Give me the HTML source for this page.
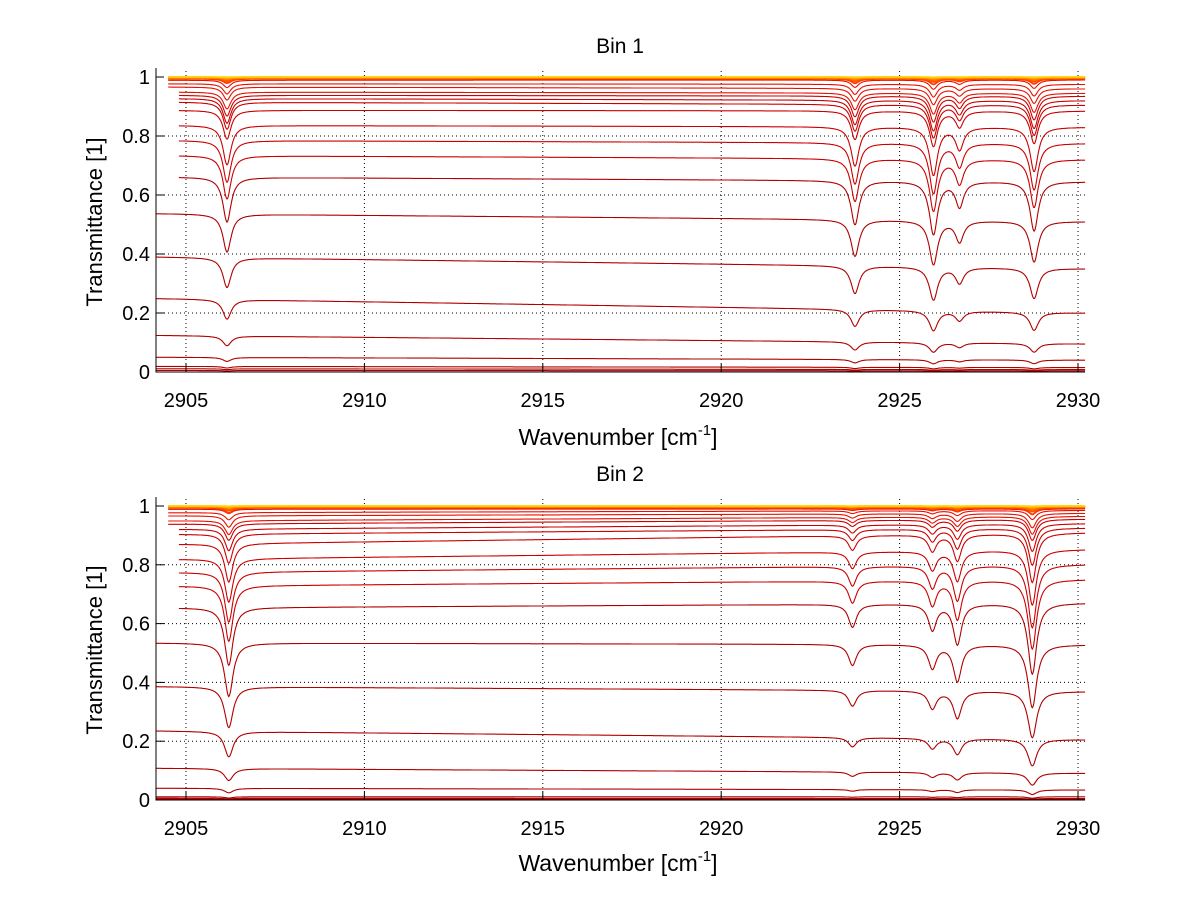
<!DOCTYPE html>
<html><head><meta charset="utf-8"><style>
html,body{margin:0;padding:0;background:#fff;}
svg{display:block;font-family:"Liberation Sans",sans-serif;}
</style></head><body>
<svg id="fig" width="1200" height="901" viewBox="0 0 1200 901"></svg>
<script>
// ---- data ----
const xTicks = [2905, 2910, 2915, 2920, 2925, 2930];
const yTicks = [0, 0.2, 0.4, 0.6, 0.8, 1];
const yTickLabels = ["0", "0.2", "0.4", "0.6", "0.8", "1"];
const lineCenters1 = [2906.15, 2923.75, 2925.95, 2926.68, 2928.77];
const lineRel1 = [1, 1.0, 1.25, 0.55, 1.15];
const baseLeft1 = [1.0,0.999,0.998,0.997,0.996,0.994,0.989,0.977,0.966,0.949,0.938,0.927,0.915,0.887,0.836,0.785,0.734,0.661,0.537,0.39,0.249,0.124,0.05,0.019,0.011,0.005];
const baseRight1 = [1.0,0.999,0.998,0.997,0.996,0.994,0.99,0.975,0.96,0.945,0.935,0.92,0.905,0.885,0.83,0.775,0.72,0.645,0.51,0.35,0.2,0.095,0.04,0.015,0.008,0.004];
const dipRatio1 = [0.999,0.998,0.996,0.994,0.99,0.985,0.975,0.965,0.955,0.94,0.925,0.91,0.9,0.89,0.84,0.82,0.8,0.77,0.76,0.74,0.73,0.73,0.73,0.73,0.73,0.73];
const startX1 = [2904.5,2904.5,2904.5,2904.5,2904.5,2904.5,2904.5,2904.5,2904.5,2904.8,2904.8,2904.8,2904.8,2904.8,2904.8,2904.8,2904.8,2904.8,2904.16,2904.16,2904.16,2904.16,2904.16,2904.16,2904.16,2904.16];
const lineCenters2 = [2906.2, 2923.68, 2925.92, 2926.62, 2928.72];
const lineRel2 = [1, 0.35, 0.4, 0.65, 1.25];
const baseLeft2 = [1.0,0.999,0.998,0.997,0.996,0.994,0.989,0.977,0.966,0.949,0.938,0.92,0.903,0.869,0.818,0.773,0.727,0.653,0.534,0.386,0.235,0.108,0.04,0.011,0.006,0.003];
const baseRight2 = [1.0,0.999,0.998,0.997,0.996,0.994,0.99,0.985,0.975,0.965,0.955,0.94,0.925,0.909,0.852,0.801,0.75,0.67,0.528,0.369,0.205,0.091,0.034,0.011,0.005,0.003];
const dipRatio2 = [0.999,0.997,0.995,0.992,0.988,0.982,0.985,0.975,0.96,0.95,0.94,0.92,0.89,0.85,0.82,0.78,0.74,0.7,0.66,0.64,0.63,0.62,0.62,0.62,0.62,0.62];
const startX2 = [2904.5,2904.5,2904.5,2904.5,2904.5,2904.5,2904.5,2904.5,2904.5,2904.5,2904.5,2904.8,2904.8,2904.8,2904.8,2904.8,2904.8,2904.8,2904.16,2904.16,2904.16,2904.16,2904.16,2904.16,2904.16,2904.16];

const NS = "http://www.w3.org/2000/svg";
const svg = document.getElementById("fig");
function mk(tag, attrs, parent) {
  const e = document.createElementNS(NS, tag);
  for (const k in attrs) e.setAttribute(k, attrs[k]);
  (parent || svg).appendChild(e);
  return e;
}
function colorFor(i, n) {
  if (i <= 2) return ["#ffd000","#ffa800","#ff8800"][i];
  if (i <= 5) return ["#ff6a00","#ff5000","#ff3a00"][i - 3];
  if (i <= 9) return "#e81000";
  if (i <= 16) return "#cc0000";
  return "#b00000";
}
function drawPlot(p) {
  const X0 = 2904.16, X1 = 2930.2;
  const xs = v => 186 + (v - 2905) * 35.68;
  const ys = v => p.y0 - v * (p.y0 - p.y1);
  const g = mk("g", {});
  
  
  xTicks.forEach(t => {
    const l = mk("line", {x1: xs(t), x2: xs(t), y1: p.y0, y2: p.top, stroke: "#000", "stroke-width": 1, "stroke-dasharray": "1,3"}, g);
    
    
  });
  yTicks.slice(1, 5).forEach(t => {
    const l = mk("line", {x1: 156, x2: 1085, y1: ys(t), y2: ys(t), stroke: "#000", "stroke-width": 1, "stroke-dasharray": "1,3"}, g);
    
    
  });
  const n = p.baseL.length;
  for (let i = n - 1; i >= 0; i--) {
    const tau = -Math.log(p.ratio[i]);
    let d = "";
    for (let x = p.start[i]; x <= X1 + 1e-9; x += 0.02) {
      const b = p.baseL[i] + (p.baseR[i] - p.baseL[i]) * (x - X0) / (X1 - X0);
      let a = 0;
      for (let k = 0; k < p.centers.length; k++) {
        const u = (x - p.centers[k]) / 0.13;
        a += p.rel[k] / (1 + u * u);
      }
      const v = b * Math.exp(-tau * a);
      d += (d ? "L" : "M") + xs(x).toFixed(1) + "," + ys(v).toFixed(1);
    }
    const path = mk("path", {d: d, fill: "none", stroke: colorFor(i, n), "stroke-width": i < 6 ? 1.8 : 1.1}, g);
    
    
  }
  const ax = mk("path", {d: `M156,${p.top}V${p.y0}H1085`, fill: "none", stroke: "#000", "stroke-width": 1}, g);
  
  
  xTicks.forEach(t => {
    mk("line", {x1: xs(t), x2: xs(t), y1: p.y0, y2: p.y0 - 8, stroke: "#000"}, g);
    const tx = mk("text", {x: xs(t), y: p.y0 + 35, "font-size": 20, "text-anchor": "middle"}, g);
    tx.textContent = t;
    
    
  });
  yTicks.forEach((t, j) => {
    mk("line", {x1: 156, x2: 164, y1: ys(t), y2: ys(t), stroke: "#000"}, g);
    const tx = mk("text", {x: 150, y: ys(t) + 7, "font-size": 20, "text-anchor": "end"}, g);
    tx.textContent = yTickLabels[j];
    
    
  });
  const ti = mk("text", {x: 620, y: p.titleY, "font-size": 21, "text-anchor": "middle"}, g);
  ti.textContent = p.title;
  
  
  const xl = mk("text", {x: 618, y: p.xlabY, "font-size": 23, "text-anchor": "middle"}, g);
  xl.innerHTML = 'Wavenumber [cm<tspan dy="-10" font-size="15">-1</tspan><tspan dy="10">]</tspan>';
  
  
  const yl = mk("text", {x: 0, y: 0, "font-size": 22, "text-anchor": "middle", transform: `translate(102,${p.ylabY}) rotate(-90)`}, g);
  yl.textContent = "Transmittance [1]";
  
  
}
drawPlot({name: "bin-1-chart", title: "Bin 1", y0: 372, y1: 77, top: 68, titleY: 53, xlabY: 445, ylabY: 222,
  centers: lineCenters1, rel: lineRel1, baseL: baseLeft1, baseR: baseRight1, ratio: dipRatio1, start: startX1});
drawPlot({name: "bin-2-chart", title: "Bin 2", y0: 800, y1: 506, top: 497, titleY: 481, xlabY: 871, ylabY: 650,
  centers: lineCenters2, rel: lineRel2, baseL: baseLeft2, baseR: baseRight2, ratio: dipRatio2, start: startX2});
</script>
</body></html>
